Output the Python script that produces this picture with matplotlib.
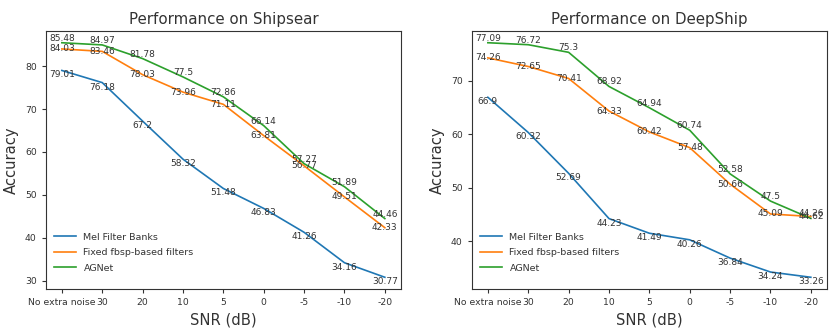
import matplotlib
matplotlib.use("Agg")
import matplotlib.pyplot as plt

snr_labels = ["No extra noise", "30", "20", "10", "5", "0", "-5", "-10", "-20"]
series_names = ["Mel Filter Banks", "Fixed fbsp-based filters", "AGNet"]

shipsear_mel = [79.01, 76.18, 67.2, 58.32, 51.48, 46.83, 41.26, 34.16, 30.77]
shipsear_fixed = [84.03, 83.46, 78.03, 73.96, 71.11, 63.81, 56.77, 49.51, 42.33]
shipsear_agnet = [85.48, 84.97, 81.78, 77.5, 72.86, 66.14, 57.27, 51.89, 44.46]

deepship_mel = [66.9, 60.32, 52.69, 44.23, 41.49, 40.26, 36.84, 34.24, 33.26]
deepship_fixed = [74.26, 72.65, 70.41, 64.33, 60.42, 57.48, 50.66, 45.09, 44.62]
deepship_agnet = [77.09, 76.72, 75.3, 68.92, 64.94, 60.74, 52.58, 47.5, 44.26]

colors = ["#1f77b4", "#ff7f0e", "#2ca02c"]
vas = ["top", "center", "bottom"]
txt = "#333333"

fig = plt.figure(figsize=(8.31, 3.32), dpi=100)
ax1 = fig.add_axes([45.7/831, 1-289/332, (401-45.7)/831, (289-31)/332])
ax2 = fig.add_axes([471.7/831, 1-289/332, (827-471.7)/831, (289-31)/332])

for ax, title, data in [
    (ax1, "Performance on Shipsear", [shipsear_mel, shipsear_fixed, shipsear_agnet]),
    (ax2, "Performance on DeepShip", [deepship_mel, deepship_fixed, deepship_agnet]),
]:
    x = list(range(len(snr_labels)))
    for vals, name, c, va in zip(data, series_names, colors, vas):
        ax.plot(x, vals, color=c, lw=1.2, label=name)
        for xi, v in zip(x, vals):
            ax.text(xi, v, f"{v:g}", ha="center", va=va, fontsize=6.5, color=txt)
    ax.set_xticks(x)
    ax.set_xticklabels(snr_labels)
    ax.tick_params(labelsize=6.7, colors=txt, length=3, width=0.8)
    ax.set_title(title, fontsize=10.8, color=txt, pad=5)
    ax.set_xlabel("SNR (dB)", fontsize=10.6, color=txt)
    ax.set_ylabel("Accuracy", fontsize=10.6, color=txt)
    for s in ax.spines.values():
        s.set_color("#333333")
    leg = ax.legend(loc="lower left", frameon=False, fontsize=6.8, handlelength=2.3,
                    labelspacing=0.7, bbox_to_anchor=(0.0, 0.03))
    for t in leg.get_texts():
        t.set_color(txt)

fig.savefig("out.png", dpi=100)
